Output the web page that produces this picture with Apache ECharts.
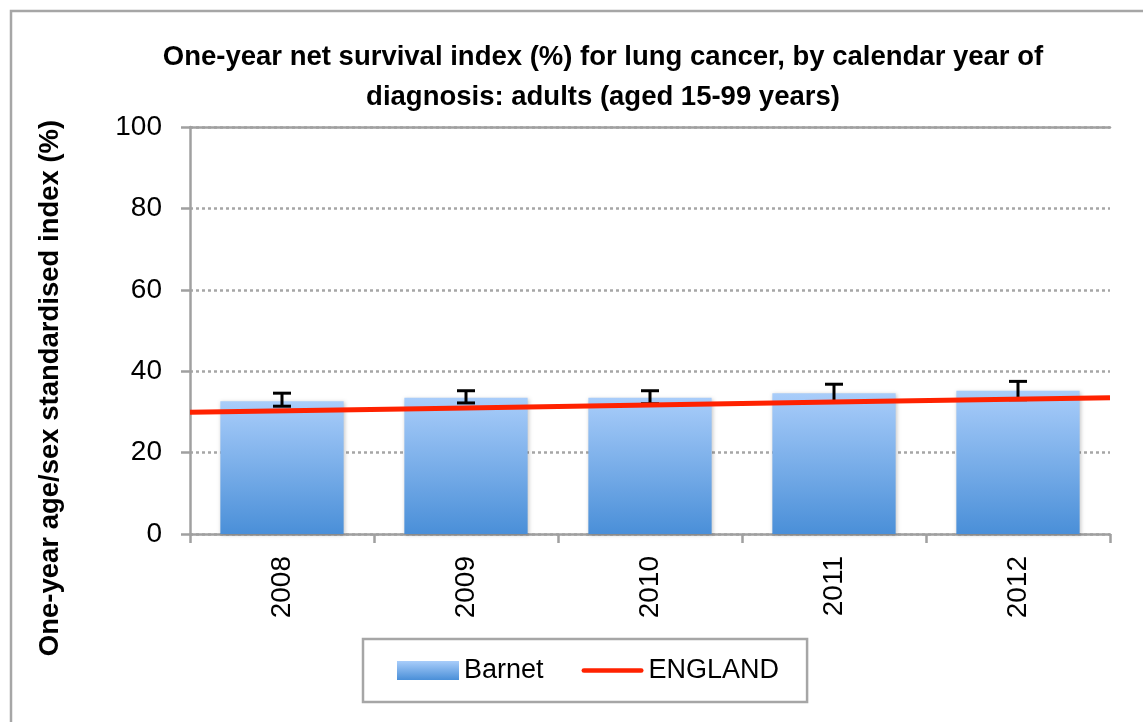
<!DOCTYPE html>
<html>
<head>
<meta charset="utf-8">
<script src="https://cdn.jsdelivr.net/npm/echarts@6/dist/echarts.min.js"></script>
<style>
  html, body { margin: 0; padding: 0; background: #fff; }
  #main { width: 1143px; height: 722px; }
</style>
</head>
<body>
<div id="main"></div>
<script>
// 数据
var years = ['2008', '2009', '2010', '2011', '2012'];
var barnet = [32.6, 33.5, 33.5, 34.6, 35.2];
var barnetLow = [31.4, 32.2, 32.0, 32.4, 33.0];
var barnetHigh = [34.6, 35.2, 35.2, 36.8, 37.5];
var england = [29.9, 30.8, 31.7, 32.6, 33.5];

var axisGray = '#a0a0a0';
var font = 'Liberation Sans, Arial, sans-serif';

var errData = [];
for (var i = 0; i < years.length; i++) {
    errData.push([i, barnetLow[i], barnetHigh[i]]);
}

var mychart = echarts.init(document.getElementById('main'));
var option = {
    backgroundColor: '#fff',
    animation: false,
    title: {
        text: 'One-year net survival index (%) for lung cancer, by calendar year of\ndiagnosis: adults (aged 15-99 years)',
        left: 598,
        top: 32,
        textAlign: 'center',
        textStyle: {
            fontFamily: font,
            fontWeight: 'bold',
            fontSize: 27.5,
            lineHeight: 40,
            color: '#000'
        }
    },
    graphic: [
        {
            type: 'rect',
            shape: { x: 11, y: 11, width: 1200, height: 800 },
            style: { fill: 'none', stroke: '#a6a6a6', lineWidth: 2.5 },
            silent: true
        },
        {
            type: 'text',
            x: 50,
            y: 388,
            rotation: Math.PI / 2,
            style: {
                text: 'One-year age/sex standardised index (%)',
                fontFamily: font,
                fontWeight: 'bold',
                fontSize: 27.5,
                fill: '#000',
                align: 'center',
                verticalAlign: 'middle'
            }
        }
    ],
    legend: {
        left: 363,
        top: 639,
        padding: [18, 28, 18, 34],
        itemGap: 38,
        itemWidth: 62,
        itemHeight: 19,
        borderColor: '#a6a6a6',
        borderWidth: 2.5,
        textStyle: { fontFamily: font, fontSize: 27, color: '#000' },
        data: [
            { name: 'Barnet', icon: 'rect' },
            { name: 'ENGLAND', icon: 'path://M2,0 L64,0 A2.5,2.5 0 0 1 64,5 L2,5 A2.5,2.5 0 0 1 2,0 Z', itemStyle: { color: '#ff2200' } }
        ]
    },
    grid: {
        left: 190,
        right: 33,
        top: 127,
        bottom: 188
    },
    xAxis: [
        {
            type: 'category',
            data: years,
            axisLine: { lineStyle: { color: axisGray, width: 2.5 } },
            axisTick: { show: true, length: 9, lineStyle: { color: axisGray, width: 2.5 } },
            axisLabel: {
                rotate: 90,
                margin: 22,
                fontFamily: font,
                fontSize: 28,
                color: '#000'
            }
        },
        {
            // 辅助轴：ENGLAND 线从左边到右边
            type: 'category',
            data: years,
            position: 'top',
            boundaryGap: false,
            axisLine: { show: true, lineStyle: { color: axisGray, width: 2.5 } },
            axisTick: { show: false },
            axisLabel: { show: false }
        }
    ],
    yAxis: {
        type: 'value',
        min: 0,
        max: 100,
        interval: 20,
        axisLine: { show: true, lineStyle: { color: axisGray, width: 2.5 } },
        axisTick: { show: true, length: 9, lineStyle: { color: axisGray, width: 2.5 } },
        axisLabel: {
            margin: 28,
            fontFamily: font,
            fontSize: 28,
            color: '#000'
        },
        splitLine: {
            show: true,
            lineStyle: { color: '#a6a6a6', type: [3, 3], width: 2.5 }
        }
    },
    series: [
        {
            name: 'Barnet',
            type: 'bar',
            data: barnet,
            barCategoryGap: '33%',
            itemStyle: {
                color: new echarts.graphic.LinearGradient(0, 0, 0, 1, [
                    { offset: 0, color: '#a9cdfa' },
                    { offset: 1, color: '#4a8fd8' }
                ]),
                shadowColor: 'rgba(0,0,0,0.22)',
                shadowBlur: 4,
                shadowOffsetX: 1,
                shadowOffsetY: 1
            },
            z: 2
        },
        {
            name: 'errorbar',
            type: 'custom',
            data: errData,
            z: 3,
            renderItem: function (params, api) {
                var x = api.value(0);
                var lo = api.coord([x, api.value(1)]);
                var hi = api.coord([x, api.value(2)]);
                var half = 9;
                var st = { stroke: '#000', lineWidth: 3 };
                return {
                    type: 'group',
                    children: [
                        { type: 'line', shape: { x1: hi[0], y1: hi[1], x2: lo[0], y2: lo[1] }, style: st },
                        { type: 'line', shape: { x1: hi[0] - half, y1: hi[1], x2: hi[0] + half, y2: hi[1] }, style: st },
                        { type: 'line', shape: { x1: lo[0] - half, y1: lo[1], x2: lo[0] + half, y2: lo[1] }, style: st }
                    ]
                };
            }
        },
        {
            name: 'ENGLAND',
            type: 'line',
            xAxisIndex: 1,
            data: england,
            symbol: 'none',
            lineStyle: { color: '#ff2200', width: 5 },
            itemStyle: { color: '#ff2200' },
            z: 4
        }
    ]
};
mychart.setOption(option);
</script>
</body>
</html>
